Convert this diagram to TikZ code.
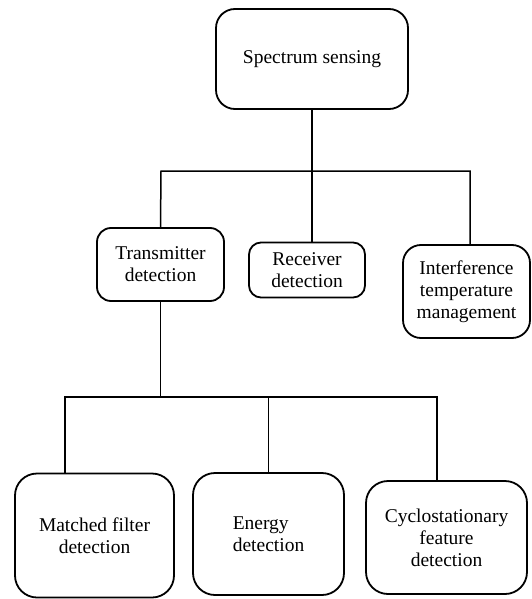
\documentclass[tikz,border=0pt]{standalone}
\usepackage{fontspec}
\setmainfont{Liberation Serif}
\begin{document}
\begin{tikzpicture}[x=1pt,y=-1pt,
  box/.style={draw,line width=1.8pt,rounded corners=14pt,align=center,
    font=\fontsize{19.5}{22}\selectfont,inner sep=0pt},
  conn/.style={line width=1.5pt}]
\useasboundingbox (0,0) rectangle (531,599);
\node[box,rounded corners=19pt,minimum width=192pt,minimum height=100pt] (ss) at (312,59) {Spectrum sensing};
\node[box,minimum width=127pt,minimum height=73pt] (td) at (160.5,264.5) {Transmitter\\detection};
\node[box,rounded corners=12pt,minimum width=116pt,minimum height=55pt] (rd) at (307,270) {Receiver\\detection};
\node[box,rounded corners=18pt,minimum width=127pt,minimum height=93pt] (itm) at (466.5,291.5) {Interference\\temperature\\management};
\node[box,rounded corners=22pt,minimum width=159pt,minimum height=124pt] (mf) at (94.5,535.5) {Matched filter\\detection};
\node[box,rounded corners=22pt,minimum width=151pt,minimum height=122pt,align=left] (ed) at (268.5,534) {Energy\\detection};
\node[box,rounded corners=22pt,minimum width=161pt,minimum height=113pt] (cf) at (446.5,537.5) {Cyclostationary\\feature\\detection};
\coordinate (h1L) at (161,171);
\coordinate (h1R) at (470,171);
\coordinate (h2L) at (65,397);
\coordinate (h2R) at (437,397);
\draw[conn] (ss.south) -- (ss.south |- rd.north);
\draw[conn] (td.north) -- (h1L) -- (h1R) -- (h1R |- itm.north);
\draw[conn] (td.south) -- (td.south |- h2L);
\draw[conn] (h2L |- mf.north) -- (h2L) -- (h2R) -- (h2R |- cf.north);
\draw[conn] (ed.north) -- (ed.north |- h2L);
\end{tikzpicture}
\end{document}
